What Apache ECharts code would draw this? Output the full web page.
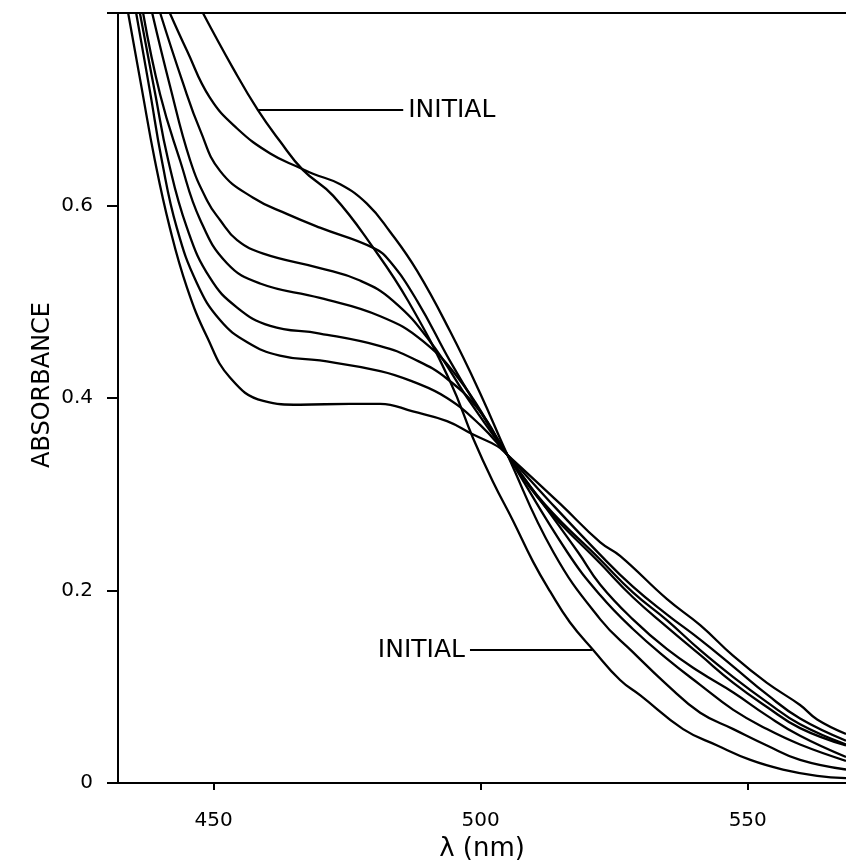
<!DOCTYPE html>
<html>
<head>
<meta charset="utf-8">
<script src="https://cdn.jsdelivr.net/npm/echarts@6/dist/echarts.min.js"></script>
<style>
html,body{margin:0;padding:0;background:#fff;}
#chart{width:846px;height:867px;}
</style>
</head>
<body>
<div id="chart"></div>
<script>
// ---- data (wavelength nm, absorbance) ----
const xRange = [432.1, 568.4];
const yRange = [0, 0.8];
const xTickValues = [450, 500, 550];
const yTickValues = [0, 0.2, 0.4, 0.6, 0.8];
const yLabelValues = [0, 0.2, 0.4, 0.6];

const initialCurve = [[448.0,0.800],[453.6,0.743],[458.3,0.699],[462.4,0.667],[466.7,0.637],[472.4,0.610],[479.9,0.556],[486.4,0.501],[494.3,0.417],[498.6,0.358],[502.3,0.313],[506.1,0.272],[509.8,0.230],[513.0,0.199],[516.7,0.167],[521.1,0.138],[526.1,0.107],[529.9,0.091],[537.9,0.056],[544.3,0.039],[550.5,0.024],[556.6,0.014],[563.0,0.0075],[568.4,0.005]];
const curve1 = [[441.8,0.800],[445.0,0.761],[449.3,0.712],[454.4,0.680],[460.6,0.654],[466.2,0.639],[468.6,0.633],[473.7,0.622],[478.7,0.602],[483.0,0.573],[488.1,0.532],[494.3,0.469],[499.9,0.405],[505.0,0.341],[513.6,0.240],[522.4,0.170],[528.5,0.136],[534.9,0.102],[541.1,0.073],[547.3,0.056],[553.6,0.039],[559.8,0.024],[568.4,0.014]];
const curve2 = [[440.0,0.800],[444.1,0.730],[447.5,0.678],[451.2,0.636],[457.4,0.608],[463.8,0.591],[469.9,0.577],[479.9,0.556],[483.0,0.542],[488.1,0.501],[494.3,0.438],[499.9,0.386],[505.0,0.341],[516.2,0.240],[522.4,0.195],[528.5,0.160],[534.9,0.129],[541.1,0.102],[547.3,0.076],[553.6,0.056],[559.8,0.040],[568.4,0.023]];
const curve3 = [[438.5,0.800],[441.8,0.725],[445.6,0.647],[448.8,0.605],[451.2,0.585],[454.4,0.564],[459.3,0.550],[469.9,0.535],[477.4,0.522],[483.6,0.501],[490.5,0.459],[498.0,0.396],[505.0,0.341],[518.2,0.240],[522.4,0.206],[528.5,0.170],[534.9,0.139],[541.1,0.115],[547.3,0.094],[553.6,0.070],[559.8,0.049],[568.4,0.027]];
const curve4 = [[436.8,0.800],[440.0,0.715],[443.7,0.647],[447.5,0.585],[452.5,0.540],[458.7,0.519],[469.9,0.504],[481.2,0.485],[489.2,0.459],[496.7,0.414],[505.0,0.341],[512.1,0.287],[522.4,0.228],[528.5,0.193],[534.9,0.162],[541.1,0.133],[547.3,0.104],[553.6,0.079],[559.8,0.057],[568.4,0.039]];
const curve5 = [[436.2,0.800],[439.0,0.718],[441.5,0.647],[445.0,0.577],[449.3,0.525],[454.4,0.494],[460.6,0.475],[469.9,0.467],[481.2,0.454],[487.3,0.441],[493.7,0.420],[499.9,0.386],[505.0,0.341],[512.1,0.289],[522.4,0.232],[528.5,0.198],[534.9,0.169],[541.1,0.138],[547.3,0.110],[553.6,0.084],[559.8,0.061],[568.4,0.040]];
const curve6 = [[435.5,0.800],[438.1,0.718],[440.3,0.647],[443.1,0.577],[446.9,0.519],[451.2,0.481],[456.3,0.458],[462.4,0.444],[469.9,0.439],[481.2,0.428],[487.3,0.417],[493.7,0.400],[499.9,0.372],[505.0,0.341],[513.0,0.292],[522.4,0.237],[528.5,0.204],[534.9,0.175],[541.1,0.149],[547.3,0.121],[553.6,0.092],[559.8,0.067],[568.4,0.044]];
const curve7 = [[434.0,0.800],[436.5,0.723],[439.0,0.647],[441.8,0.577],[445.0,0.515],[448.8,0.463],[453.1,0.421],[459.3,0.397],[466.2,0.393],[475.5,0.394],[481.2,0.394],[487.3,0.386],[493.7,0.376],[498.6,0.362],[503.1,0.350],[505.0,0.341],[514.9,0.290],[522.4,0.250],[526.1,0.236],[534.9,0.191],[541.1,0.164],[547.3,0.132],[553.6,0.104],[559.8,0.081],[563.0,0.066],[568.4,0.051]];

const curves = [initialCurve, curve1, curve2, curve3, curve4, curve5, curve6, curve7];

// leader lines for the "INITIAL" labels: [from, to]
const initialLeaderTop = [[458.3, 0.699], [485.5, 0.699]];
const initialLeaderBottom = [[520.9, 0.138], [498.0, 0.138]];
const labelText = 'INITIAL';

const FONT = 'DejaVu Sans';
const chart = echarts.init(document.getElementById('chart'), null, {renderer: 'canvas'});

const series = curves.map((c, i) => {
  const s = {
    type: 'line',
    data: c,
    xAxisIndex: 0,
    yAxisIndex: 0,
    showSymbol: false,
    symbol: 'none',
    smooth: 0.45,
    clip: true,
    lineStyle: {color: '#000', width: 2.3},
    silent: true,
    animation: false
  };
  if (i === 0) {
    s.markLine = {
      silent: true,
      symbol: ['none', 'none'],
      animation: false,
      lineStyle: {color: '#000', width: 2, type: 'solid'},
      label: {show: true, position: 'end', formatter: labelText, color: '#000',
              fontFamily: FONT, fontSize: 25, distance: 5},
      emphasis: {disabled: true},
      data: [
        [{coord: initialLeaderTop[0]}, {coord: initialLeaderTop[1]}],
        [{coord: initialLeaderBottom[0]}, {coord: initialLeaderBottom[1]}]
      ]
    };
  }
  return s;
});

const option = {
  backgroundColor: '#fff',
  animation: false,
  grid: {left: 118, right: 0, top: 13, bottom: 84, outerBoundsMode: 'none', containLabel: false},
  xAxis: [{
    type: 'value', min: xRange[0], max: xRange[1],
    name: 'λ (nm)', nameLocation: 'middle', nameGap: 53, nameMoveOverlap: false,
    nameTextStyle: {fontFamily: FONT, fontSize: 26, color: '#000'},
    axisLine: {show: true, lineStyle: {color: '#000', width: 2}},
    axisTick: {show: true, inside: false, length: 7, customValues: xTickValues, lineStyle: {color: '#000', width: 2}},
    axisLabel: {show: true, customValues: xTickValues, margin: 28, fontFamily: FONT, fontSize: 20, color: '#000'},
    splitLine: {show: false}
  }, {
    type: 'value', position: 'top', min: xRange[0], max: xRange[1],
    axisLine: {show: true, lineStyle: {color: '#000', width: 2}},
    axisTick: {show: false}, axisLabel: {show: false}, splitLine: {show: false}
  }],
  yAxis: [{
    type: 'value', min: yRange[0], max: yRange[1],
    name: 'ABSORBANCE', nameLocation: 'middle', nameGap: 63, nameRotate: 90, nameMoveOverlap: false,
    nameTextStyle: {fontFamily: FONT, fontSize: 24, color: '#000', padding: [0, 0, 0, 26]},
    axisLine: {show: true, lineStyle: {color: '#000', width: 2}},
    axisTick: {show: true, inside: false, length: 11, customValues: yTickValues, lineStyle: {color: '#000', width: 2}},
    axisLabel: {show: true, customValues: yLabelValues, margin: 25, fontFamily: FONT, fontSize: 20, color: '#000',
                formatter: v => (v === 0 ? '0' : v.toFixed(1))},
    splitLine: {show: false}
  }],
  series: series
};
chart.setOption(option);
</script>
</body>
</html>
